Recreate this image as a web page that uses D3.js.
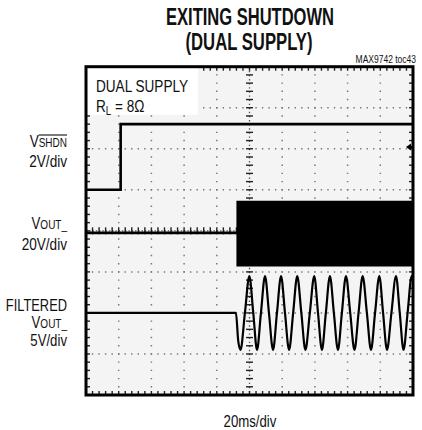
<!DOCTYPE html>
<html><head><meta charset="utf-8">
<script src="https://cdn.jsdelivr.net/npm/d3@7/dist/d3.min.js"></script>
<style>
html,body{margin:0;padding:0;background:#fff;}
text{font-family:"Liberation Sans",Arial,sans-serif;fill:#111;}
</style></head>
<body>
<svg id="c" width="422" height="430"></svg>
<script>
// ---- data (time in ms, 20 ms/div; voltages in V) ----
const timeDomain = [0, 200];
// V_SHDN (2V/div)
const shdnT = [0, 21.2, 21.2, 200];
const shdnV = [0, 0, 3.2, 3.2];
// VOUT_ (20V/div): idle baseline then switching band
const voutT = [0, 92];
const voutV = [0, 0];
const bandT = [92, 200];
const bandHi = [15.7, 15.7];
const bandLo = [-16.4, -16.4];
// Filtered VOUT_ (5V/div): baseline, then sine extremes
const filtT = [0, 91.7, 93.1, 94.5, 97.2, 99.9, 102.3, 104.6, 107.0, 109.5, 111.9, 114.4, 116.8, 119.3,
  121.7, 124.2, 126.7, 129.2, 131.7, 134.2, 136.9, 139.6, 141.9, 144.3, 146.7, 149.2, 151.6, 154.1,
  156.5, 159.0, 161.6, 164.2, 166.7, 169.2, 171.8, 174.3, 176.8, 179.4, 181.7, 184.1, 186.8, 189.6,
  191.9, 194.2, 196.7, 199.2, 201];
const filtV = [0, 0, -3.4, -4.5, 0, 4.5, 0, -4.5, 0, 4.5, 0, -4.5, 0, 4.5,
  0, -4.5, 0, 4.5, 0, -4.5, 0, 4.5, 0, -4.5, 0, 4.5, 0, -4.5,
  0, 4.5, 0, -4.5, 0, 4.5, 0, -4.5, 0, 4.5, 0, -4.5, 0, 4.5,
  0, -4.5, 0, 4.5, 3.3];

// ---- layout ----
const svg = d3.select("#c");
const L = 86, R = 413, T = 66.7, B = 395;
const x = d3.scaleLinear().domain(timeDomain).range([L, R]);
const yDiv = d3.scaleLinear().domain([0, 8]).range([T, B]);
const chan = (offsetDiv, vPerDiv) => v => yDiv(offsetDiv - v / vPerDiv);
const y1 = chan(3, 2), y2 = chan(4.05, 20), y3 = chan(6, 5);

const xStep = (x(20) - x(0)) / 5, yStep = (yDiv(1) - yDiv(0)) / 5;

svg.append("rect").attr("x", L).attr("y", T).attr("width", R - L).attr("height", B - T).attr("fill", "#f4f4f4");

const grid = svg.append("g");
x.ticks(10).forEach(t => {
  if (t === 0 || t === 200 || t === 100) return;
  grid.append("line").attr("x1", x(t)).attr("x2", x(t)).attr("y1", T).attr("y2", B)
    .attr("stroke", "#777").attr("stroke-width", 1.5)
    .attr("stroke-dasharray", `1.4 ${yStep - 1.4}`).attr("stroke-dashoffset", 0.7);
});
yDiv.ticks(8).forEach(d => {
  if (d === 0 || d === 8 || d === 4) return;
  grid.append("line").attr("y1", yDiv(d)).attr("y2", yDiv(d)).attr("x1", L).attr("x2", R)
    .attr("stroke", "#777").attr("stroke-width", 1.5)
    .attr("stroke-dasharray", `1.4 ${xStep - 1.4}`).attr("stroke-dashoffset", 0.7);
});
const cx = x(100), cy = yDiv(4);
grid.append("line").attr("x1", cx).attr("x2", cx).attr("y1", T).attr("y2", B)
  .attr("stroke", "#555").attr("stroke-width", 1.3).attr("stroke-dasharray", `1.4 ${yStep / 2 - 1.4}`);
grid.append("line").attr("y1", cy).attr("y2", cy).attr("x1", L).attr("x2", R)
  .attr("stroke", "#555").attr("stroke-width", 1.3).attr("stroke-dasharray", `1.4 ${xStep / 2 - 1.4}`);
d3.range(0, 41).forEach(i => {
  const yy = T + i * yStep;
  grid.append("line").attr("x1", cx - 3.5).attr("x2", cx + 3.5).attr("y1", yy).attr("y2", yy)
    .attr("stroke", "#222").attr("stroke-width", 1.4);
  grid.append("line").attr("x1", L).attr("x2", L + 4).attr("y1", yy).attr("y2", yy)
    .attr("stroke", "#222").attr("stroke-width", 1.4);
  grid.append("line").attr("x1", R - 4).attr("x2", R).attr("y1", yy).attr("y2", yy)
    .attr("stroke", "#222").attr("stroke-width", 1.4);
});
d3.range(0, 51).forEach(i => {
  const xx = L + i * xStep;
  grid.append("line").attr("y1", cy - 3.5).attr("y2", cy + 3.5).attr("x1", xx).attr("x2", xx)
    .attr("stroke", "#222").attr("stroke-width", 1.4);
  grid.append("line").attr("y1", T).attr("y2", T + 4).attr("x1", xx).attr("x2", xx)
    .attr("stroke", "#222").attr("stroke-width", 1.4);
  grid.append("line").attr("y1", B - 4).attr("y2", B).attr("x1", xx).attr("x2", xx)
    .attr("stroke", "#222").attr("stroke-width", 1.4);
});

// label box
svg.append("rect").attr("x", L).attr("y", T).attr("width", 112).attr("height", 48).attr("fill", "#fff");

// traces
svg.append("defs").append("clipPath").attr("id", "clip").append("rect")
  .attr("x", L).attr("y", T).attr("width", R - L).attr("height", B - T);
const tr = svg.append("g").attr("clip-path", "url(#clip)");

const line = (ys) => d3.line().x(d => x(d[0])).y(d => ys(d[1]));
tr.append("path").datum(d3.zip(shdnT, shdnV)).attr("d", line(y1))
  .attr("fill", "none").attr("stroke", "#000").attr("stroke-width", 2.6);
tr.append("path").datum(d3.zip(voutT, voutV)).attr("d", line(y2))
  .attr("fill", "none").attr("stroke", "#000").attr("stroke-width", 2.6);
tr.append("path").datum(d3.zip(bandT, bandHi, bandLo))
  .attr("d", d3.area().x(d => x(d[0])).y0(d => y2(d[2])).y1(d => y2(d[1])))
  .attr("fill", "#000");
tr.append("path").datum(d3.zip(filtT, filtV)).attr("d", line(y3).curve(d3.curveMonotoneX))
  .attr("fill", "none").attr("stroke", "#000").attr("stroke-width", 2.2);

// frame
svg.append("rect").attr("x", L).attr("y", T).attr("width", R - L).attr("height", B - T)
  .attr("fill", "none").attr("stroke", "#000").attr("stroke-width", 3);

// channel marker
svg.append("path").attr("d", `M${R - 7},147 L${R - 2},143.5 L${R - 2},150.5 Z`).attr("fill", "#000");
svg.append("line").attr("x1", R - 3).attr("x2", R).attr("y1", 147).attr("y2", 147).attr("stroke", "#000").attr("stroke-width", 2);

// condensed text helper
function txt(x0, y0, anchor, size, sx = 0.8) {
  const g = svg.append("g").attr("transform", `translate(${x0},${y0}) scale(${sx},1)`);
  const t = g.append("text").attr("x", 0).attr("y", 0).attr("text-anchor", anchor).style("font-size", size + "px");
  t.g = g;
  return t;
}

txt(250, 25, "middle", 23, 1).style("font-weight", "bold")
  .attr("textLength", 168).attr("lengthAdjust", "spacingAndGlyphs").text("EXITING SHUTDOWN");
txt(249, 50, "middle", 23, 1).style("font-weight", "bold")
  .attr("textLength", 127).attr("lengthAdjust", "spacingAndGlyphs").text("(DUAL SUPPLY)");
txt(416, 63, "end", 10, 0.85).text("MAX9742 toc43");

txt(96, 92, "start", 17).text("DUAL SUPPLY");
const rl = txt(96, 112, "start", 17);
rl.append("tspan").text("R");
rl.append("tspan").attr("dy", 3).style("font-size", "12px").text("L");
rl.append("tspan").attr("dy", -3).text(" = 8Ω");

// left labels
const shdn = txt(67, 147, "end", 17);
shdn.append("tspan").text("V");
shdn.append("tspan").style("font-size", "12.5px").text("SHDN");
const n = shdn.node();
const sx0 = n.getStartPositionOfChar(1).x, sx1 = n.getEndPositionOfChar(4).x;
shdn.g.append("line").attr("x1", sx0).attr("x2", sx1).attr("y1", -12).attr("y2", -12)
  .attr("stroke", "#111").attr("stroke-width", 1.1);
txt(67, 166.5, "end", 17).text("2V/div");

function vout(yb) {
  const t = txt(67, yb, "end", 16.5);
  t.append("tspan").text("V");
  t.append("tspan").style("font-size", "12.5px").text("OUT_");
}
vout(229);
txt(67, 250, "end", 17).text("20V/div");
txt(67, 310.5, "end", 16.5, 0.78).text("FILTERED");
vout(328);
txt(67, 346, "end", 16.5).text("5V/div");

txt(250, 426.5, "middle", 16.5).text("20ms/div");
</script>
</body></html>
